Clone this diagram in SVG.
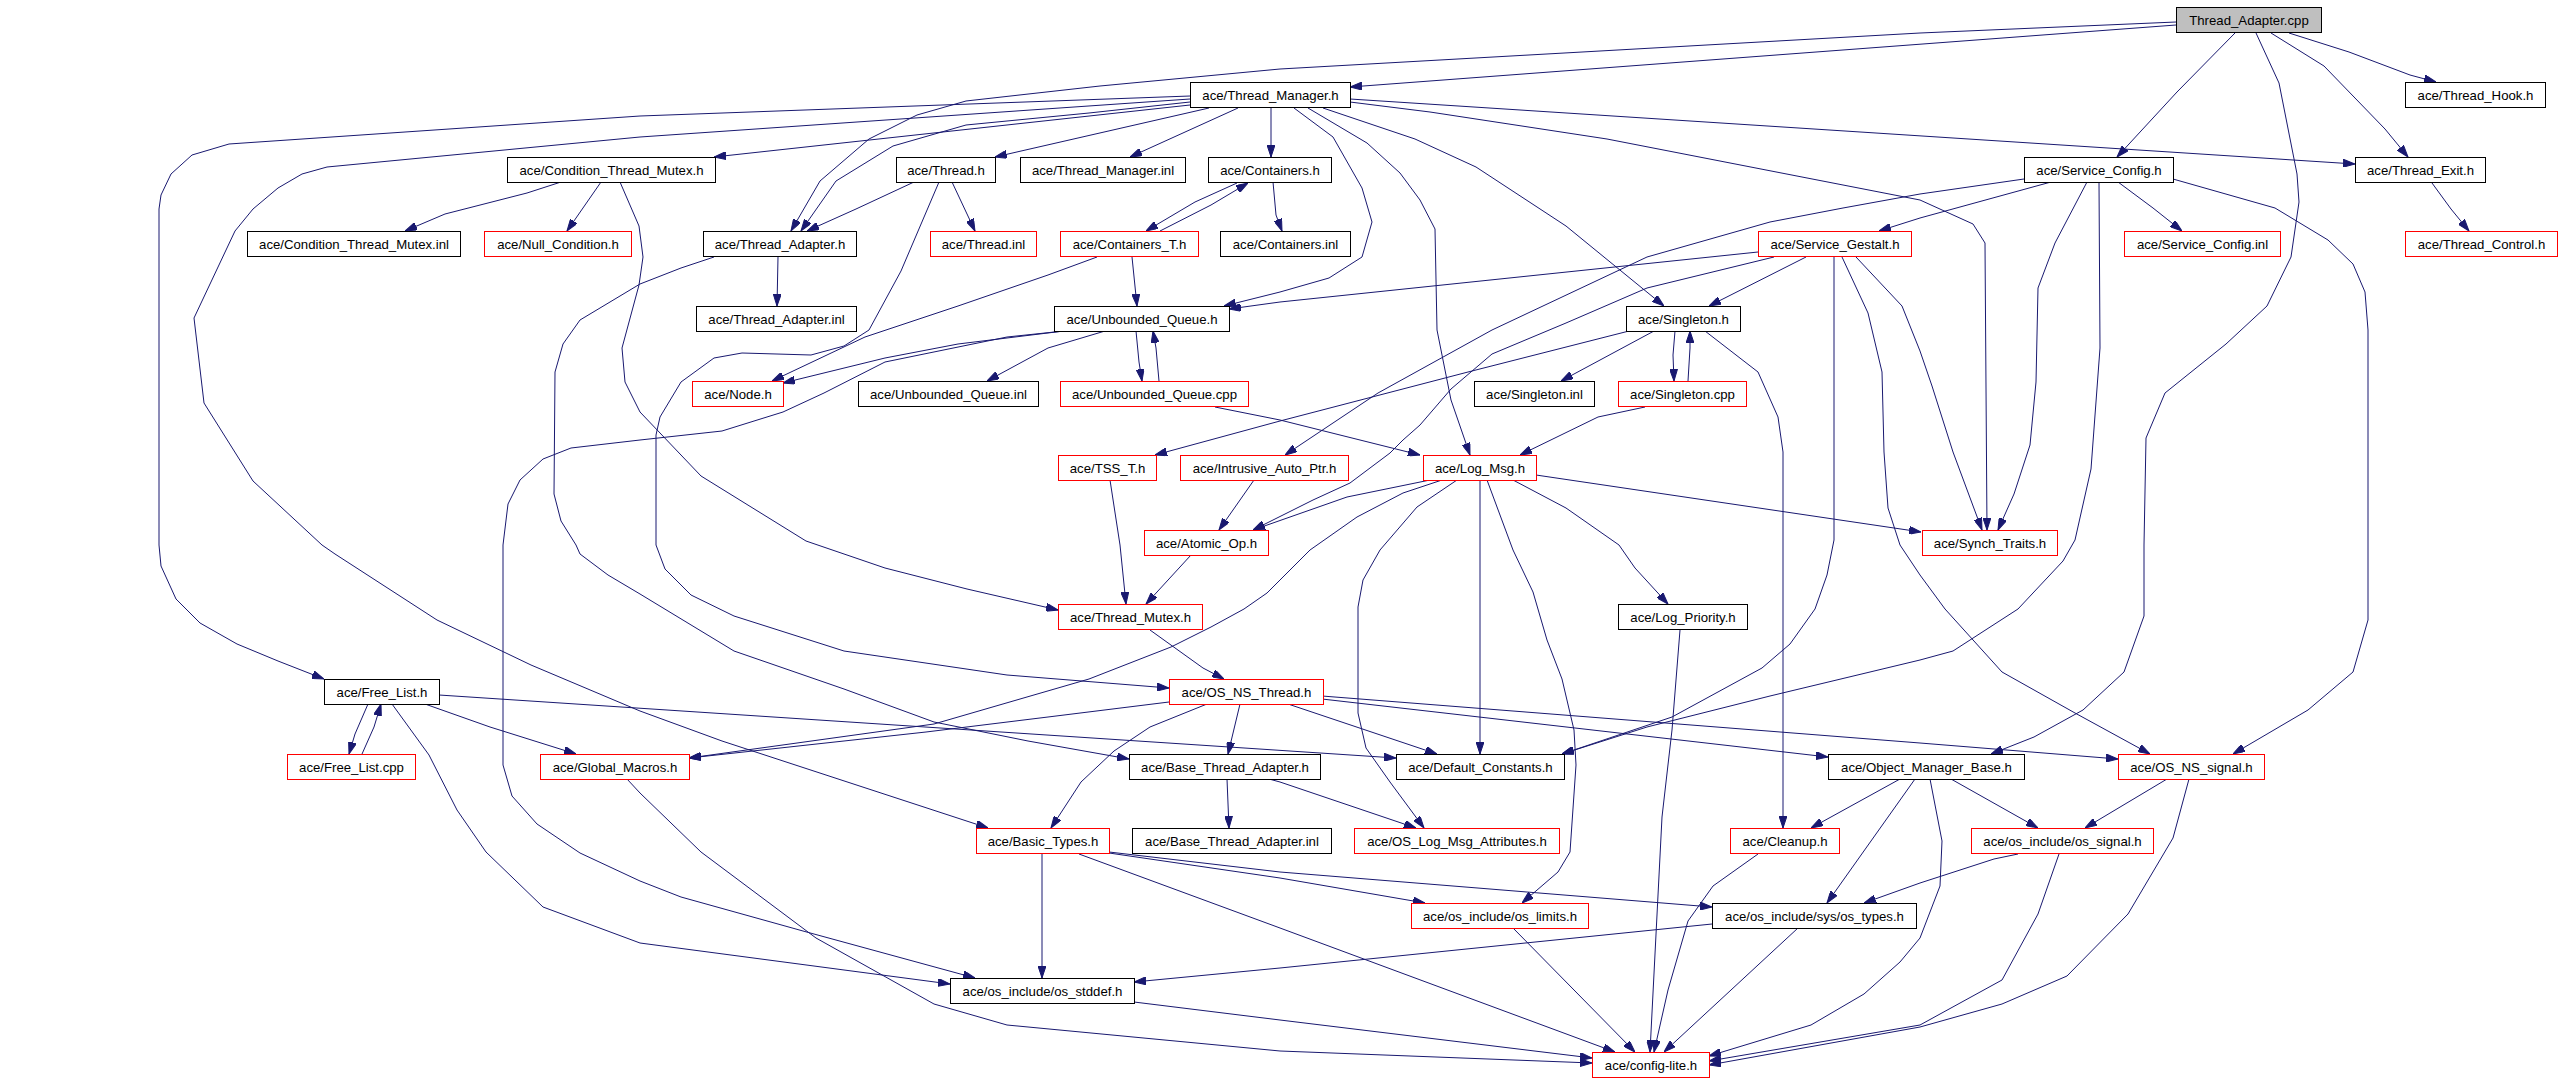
<svg xmlns="http://www.w3.org/2000/svg" width="2559" height="1083" viewBox="0 0 2559 1083">
<style>
.n rect{fill:#fff;stroke:#000;stroke-width:1}
.r rect{stroke:#f00}
.root rect{fill:#bfbfbf}
text{font-family:"Liberation Sans",Arial,sans-serif;font-size:13.2px;text-anchor:middle;fill:#000}
.e path{fill:none;stroke:#191970;stroke-width:1;marker-end:url(#a)}
</style>
<defs>
<marker id="a" markerWidth="12" markerHeight="8" refX="12" refY="4" orient="auto" markerUnits="userSpaceOnUse"><path d="M0,0 L12,4 L0,8 z" fill="#191970" stroke="#191970" stroke-width="1"/></marker>
</defs>
<rect width="2559" height="1083" fill="#fff"/>
<g id="edges" class="e">
<path d="M2176,25 L1350,87"/>
<path d="M2176,22 L1920,33 L1280,69 L1100,86 L966,101 L917,115 L869,139 L820,181 L791,231"/>
<path d="M2235,33 L2177,92 L2117,157"/>
<path d="M2256,33 L2279,83 L2297,174 L2299,202 L2291,257 L2267,306 L2226,344 L2165,393 L2146,438 L2144,545 L2144,616 L2124,672 L2083,710 L2034,737 L1991,754"/>
<path d="M2271,33 L2324,66 L2385,129 L2408,157"/>
<path d="M2289,33 L2349,52 L2410,75 L2436,82"/>
<path d="M1190,105 L714,157"/>
<path d="M1209,108 L995,157"/>
<path d="M1238,108 L1130,157"/>
<path d="M1271,108 L1271,157"/>
<path d="M1190,102 L1089,113 L966,125 L893,146 L836,181 L801,231"/>
<path d="M1190,96 L640,116 L229,144 L192,155 L171,174 L161,195 L159,209 L159,545 L161,566 L176,599 L200,623 L237,644 L278,661 L324,679"/>
<path d="M1190,99 L640,137 L327,167 L302,174 L278,188 L253,209 L235,231 L194,318 L204,403 L253,481 L322,545 L335,554 L437,620 L531,665 L640,711 L722,741 L988,828"/>
<path d="M1294,108 L1333,137 L1362,188 L1372,222 L1362,257 L1329,278 L1280,292 L1224,306"/>
<path d="M1308,108 L1367,143 L1400,173 L1420,200 L1435,229 L1437,330 L1451,400 L1470,455"/>
<path d="M1323,108 L1415,139 L1476,167 L1566,226 L1664,306"/>
<path d="M1350,102 L1430,112 L1607,139 L1920,200 L1973,224 L1985,243 L1987,530"/>
<path d="M1350,99 L2355,164"/>
<path d="M561,182 L527,193 L445,214 L405,231"/>
<path d="M601,182 L567,231"/>
<path d="M620,182 L639,226 L643,257 L639,285 L622,348 L625,382 L640,412 L701,476 L806,541 L885,568 L967,589 L1058,610"/>
<path d="M914,182 L856,209 L807,231"/>
<path d="M952,182 L975,231"/>
<path d="M939,182 L901,271 L869,330 L844,346 L811,355 L742,353 L714,358 L681,382 L660,417 L656,435 L656,545 L665,569 L691,595 L734,616 L844,651 L1007,675 L1169,688"/>
<path d="M778,257 L777,306"/>
<path d="M714,257 L681,268 L640,284 L580,320 L563,344 L555,372 L554,494 L561,521 L576,545 L580,554 L608,575 L640,594 L734,651 L844,689 L934,722 L1028,741 L1129,759"/>
<path d="M1237,183 L1195,202 L1146,231"/>
<path d="M1160,231 L1211,205 L1248,183"/>
<path d="M1273,182 L1276,215 L1282,231"/>
<path d="M1132,257 L1137,306"/>
<path d="M1097,257 L1048,275 L958,306 L865,337 L772,381"/>
<path d="M1064,331 L958,344 L885,358 L783,383"/>
<path d="M1105,331 L1048,348 L987,381"/>
<path d="M1136,331 L1139,362 L1142,381"/>
<path d="M1159,381 L1156,348 L1153,331"/>
<path d="M1064,331 L1007,337 L885,362 L824,393 L783,412 L722,431 L640,440 L571,448 L543,459 L520,480 L508,504 L503,545 L503,765 L512,796 L537,824 L580,853 L640,881 L681,897 L803,931 L975,978"/>
<path d="M1215,407 L1280,420 L1420,455"/>
<path d="M2051,182 L1920,218 L1879,231"/>
<path d="M2024,179 L1920,194 L1843,208 L1770,222 L1647,257 L1492,330 L1378,393 L1285,455"/>
<path d="M2087,182 L2055,243 L2038,288 L2036,382 L2030,445 L2014,494 L1998,530"/>
<path d="M2099,182 L2100,348 L2091,469 L2075,540 L2063,561 L2018,609 L1953,651 L1920,660 L1770,696 L1647,727 L1562,754"/>
<path d="M2118,182 L2153,208 L2182,231"/>
<path d="M2173,179 L2275,208 L2328,240 L2353,264 L2365,292 L2368,330 L2368,620 L2353,672 L2308,710 L2233,754"/>
<path d="M2432,183 L2451,209 L2469,231"/>
<path d="M1758,252 L1280,302 L1229,309"/>
<path d="M1806,257 L1709,306"/>
<path d="M1774,257 L1647,288 L1566,323 L1492,354 L1451,389 L1420,425 L1403,440 L1390,453 L1350,483 L1313,500 L1253,530"/>
<path d="M1834,257 L1834,540 L1827,575 L1815,609 L1790,644 L1762,668 L1672,717 L1562,754"/>
<path d="M1842,257 L1868,313 L1882,372 L1884,452 L1888,508 L1900,545 L1920,575 L1945,609 L2002,672 L2075,713 L2150,754"/>
<path d="M1856,257 L1902,306 L1920,351 L1932,386 L1953,452 L1982,530"/>
<path d="M1654,331 L1561,381"/>
<path d="M1675,331 L1673,355 L1674,381"/>
<path d="M1688,381 L1690,348 L1690,331"/>
<path d="M1629,331 L1468,372 L1280,421 L1155,455"/>
<path d="M1705,331 L1758,372 L1778,417 L1783,452 L1783,828"/>
<path d="M1645,407 L1598,417 L1520,455"/>
<path d="M1110,480 L1120,545 L1126,604"/>
<path d="M1254,480 L1219,530"/>
<path d="M1191,555 L1146,604"/>
<path d="M1150,630 L1203,668 L1224,679"/>
<path d="M1169,702 L1048,717 L926,732 L689,758"/>
<path d="M1207,704 L1150,727 L1114,751 L1081,782 L1051,828"/>
<path d="M1240,704 L1228,754"/>
<path d="M1288,704 L1437,754"/>
<path d="M1322,699 L1828,757"/>
<path d="M1322,696 L1920,743 L2118,759"/>
<path d="M368,704 L355,734 L349,754"/>
<path d="M362,754 L374,727 L381,704"/>
<path d="M425,704 L490,727 L576,754"/>
<path d="M439,695 L1396,758"/>
<path d="M392,704 L429,755 L457,810 L486,852 L543,907 L640,943 L950,984"/>
<path d="M627,779 L640,793 L701,852 L816,938 L934,1004 L1007,1025 L1280,1051 L1592,1063"/>
<path d="M1042,854 L1042,978"/>
<path d="M1109,853 L1280,878 L1425,903"/>
<path d="M1109,852 L1280,872 L1712,907"/>
<path d="M1079,854 L1280,928 L1615,1052"/>
<path d="M1227,779 L1229,828"/>
<path d="M1269,779 L1280,782 L1416,828"/>
<path d="M1430,480 L1347,497 L1253,530"/>
<path d="M1442,480 L1403,493 L1357,517 L1310,550 L1267,593 L1244,609 L1211,627 L1171,647 L1089,679 L934,724 L689,758"/>
<path d="M1457,480 L1417,507 L1380,550 L1363,580 L1358,607 L1358,713 L1366,748 L1390,782 L1424,828"/>
<path d="M1480,480 L1480,754"/>
<path d="M1487,480 L1513,550 L1533,592 L1547,640 L1562,679 L1574,730 L1576,765 L1570,852 L1558,872 L1522,903"/>
<path d="M1513,480 L1566,508 L1619,545 L1635,568 L1668,604"/>
<path d="M1536,475 L1921,532"/>
<path d="M1680,630 L1672,730 L1662,817 L1650,1052"/>
<path d="M1758,854 L1713,886 L1688,921 L1668,990 L1654,1052"/>
<path d="M1712,924 L1280,968 L1134,982"/>
<path d="M1798,928 L1664,1052"/>
<path d="M1513,928 L1635,1052"/>
<path d="M1134,1002 L1280,1020 L1592,1058"/>
<path d="M1930,779 L1942,841 L1940,886 L1920,938 L1900,962 L1864,994 L1811,1025 L1709,1056"/>
<path d="M2059,854 L2038,914 L2002,980 L1920,1025 L1709,1061"/>
<path d="M2189,779 L2173,838 L2128,914 L2067,976 L2002,1004 L1920,1027 L1709,1065"/>
<path d="M1951,779 L2038,828"/>
<path d="M1900,779 L1811,828"/>
<path d="M1915,779 L1827,903"/>
<path d="M2167,779 L2085,828"/>
<path d="M2018,854 L1994,859 L1920,883 L1864,903"/>
</g>
<g id="n0" class="n root"><rect x="2176.5" y="7.5" width="145" height="25"/><text x="2249" y="24.5">Thread_Adapter.cpp</text></g>
<g id="n1" class="n"><rect x="1190.5" y="82.5" width="160" height="25"/><text x="1270.5" y="99.5">ace/Thread_Manager.h</text></g>
<g id="n2" class="n"><rect x="2405.5" y="82.5" width="140" height="25"/><text x="2475.5" y="99.5">ace/Thread_Hook.h</text></g>
<g id="n3" class="n"><rect x="507.5" y="157.5" width="208" height="25"/><text x="611.5" y="174.5">ace/Condition_Thread_Mutex.h</text></g>
<g id="n4" class="n"><rect x="896.5" y="157.5" width="99" height="25"/><text x="946" y="174.5">ace/Thread.h</text></g>
<g id="n5" class="n"><rect x="1020.5" y="157.5" width="165" height="25"/><text x="1103" y="174.5">ace/Thread_Manager.inl</text></g>
<g id="n6" class="n"><rect x="1208.5" y="157.5" width="123" height="25"/><text x="1270" y="174.5">ace/Containers.h</text></g>
<g id="n7" class="n"><rect x="2024.5" y="157.5" width="149" height="25"/><text x="2099" y="174.5">ace/Service_Config.h</text></g>
<g id="n8" class="n"><rect x="2355.5" y="157.5" width="130" height="25"/><text x="2420.5" y="174.5">ace/Thread_Exit.h</text></g>
<g id="n9" class="n"><rect x="247.5" y="231.5" width="213" height="25"/><text x="354" y="248.5">ace/Condition_Thread_Mutex.inl</text></g>
<g id="n10" class="n r"><rect x="484.5" y="231.5" width="147" height="25"/><text x="558" y="248.5">ace/Null_Condition.h</text></g>
<g id="n11" class="n"><rect x="703.5" y="231.5" width="153" height="25"/><text x="780" y="248.5">ace/Thread_Adapter.h</text></g>
<g id="n12" class="n r"><rect x="930.5" y="231.5" width="106" height="25"/><text x="983.5" y="248.5">ace/Thread.inl</text></g>
<g id="n13" class="n r"><rect x="1060.5" y="231.5" width="138" height="25"/><text x="1129.5" y="248.5">ace/Containers_T.h</text></g>
<g id="n14" class="n"><rect x="1220.5" y="231.5" width="130" height="25"/><text x="1285.5" y="248.5">ace/Containers.inl</text></g>
<g id="n15" class="n r"><rect x="1758.5" y="231.5" width="153" height="25"/><text x="1835" y="248.5">ace/Service_Gestalt.h</text></g>
<g id="n16" class="n r"><rect x="2124.5" y="231.5" width="156" height="25"/><text x="2202.5" y="248.5">ace/Service_Config.inl</text></g>
<g id="n17" class="n r"><rect x="2405.5" y="231.5" width="152" height="25"/><text x="2481.5" y="248.5">ace/Thread_Control.h</text></g>
<g id="n18" class="n"><rect x="696.5" y="306.5" width="160" height="25"/><text x="776.5" y="323.5">ace/Thread_Adapter.inl</text></g>
<g id="n19" class="n"><rect x="1054.5" y="306.5" width="175" height="25"/><text x="1142" y="323.5">ace/Unbounded_Queue.h</text></g>
<g id="n20" class="n"><rect x="1626.5" y="306.5" width="114" height="25"/><text x="1683.5" y="323.5">ace/Singleton.h</text></g>
<g id="n21" class="n r"><rect x="692.5" y="381.5" width="91" height="25"/><text x="738" y="398.5">ace/Node.h</text></g>
<g id="n22" class="n"><rect x="858.5" y="381.5" width="180" height="25"/><text x="948.5" y="398.5">ace/Unbounded_Queue.inl</text></g>
<g id="n23" class="n r"><rect x="1060.5" y="381.5" width="188" height="25"/><text x="1154.5" y="398.5">ace/Unbounded_Queue.cpp</text></g>
<g id="n24" class="n"><rect x="1474.5" y="381.5" width="120" height="25"/><text x="1534.5" y="398.5">ace/Singleton.inl</text></g>
<g id="n25" class="n r"><rect x="1618.5" y="381.5" width="128" height="25"/><text x="1682.5" y="398.5">ace/Singleton.cpp</text></g>
<g id="n26" class="n r"><rect x="1058.5" y="455.5" width="98" height="25"/><text x="1107.5" y="472.5">ace/TSS_T.h</text></g>
<g id="n27" class="n r"><rect x="1180.5" y="455.5" width="168" height="25"/><text x="1264.5" y="472.5">ace/Intrusive_Auto_Ptr.h</text></g>
<g id="n28" class="n r"><rect x="1423.5" y="455.5" width="113" height="25"/><text x="1480" y="472.5">ace/Log_Msg.h</text></g>
<g id="n29" class="n r"><rect x="1144.5" y="530.5" width="124" height="25"/><text x="1206.5" y="547.5">ace/Atomic_Op.h</text></g>
<g id="n30" class="n r"><rect x="1922.5" y="530.5" width="135" height="25"/><text x="1990" y="547.5">ace/Synch_Traits.h</text></g>
<g id="n31" class="n r"><rect x="1058.5" y="604.5" width="144" height="25"/><text x="1130.5" y="621.5">ace/Thread_Mutex.h</text></g>
<g id="n32" class="n"><rect x="1618.5" y="604.5" width="129" height="25"/><text x="1683" y="621.5">ace/Log_Priority.h</text></g>
<g id="n33" class="n"><rect x="324.5" y="679.5" width="115" height="25"/><text x="382" y="696.5">ace/Free_List.h</text></g>
<g id="n34" class="n r"><rect x="1169.5" y="679.5" width="154" height="25"/><text x="1246.5" y="696.5">ace/OS_NS_Thread.h</text></g>
<g id="n35" class="n r"><rect x="287.5" y="754.5" width="128" height="25"/><text x="351.5" y="771.5">ace/Free_List.cpp</text></g>
<g id="n36" class="n r"><rect x="540.5" y="754.5" width="149" height="25"/><text x="615" y="771.5">ace/Global_Macros.h</text></g>
<g id="n37" class="n"><rect x="1129.5" y="754.5" width="191" height="25"/><text x="1225" y="771.5">ace/Base_Thread_Adapter.h</text></g>
<g id="n38" class="n"><rect x="1396.5" y="754.5" width="168" height="25"/><text x="1480.5" y="771.5">ace/Default_Constants.h</text></g>
<g id="n39" class="n"><rect x="1828.5" y="754.5" width="196" height="25"/><text x="1926.5" y="771.5">ace/Object_Manager_Base.h</text></g>
<g id="n40" class="n r"><rect x="2118.5" y="754.5" width="146" height="25"/><text x="2191.5" y="771.5">ace/OS_NS_signal.h</text></g>
<g id="n41" class="n r"><rect x="976.5" y="828.5" width="133" height="25"/><text x="1043" y="845.5">ace/Basic_Types.h</text></g>
<g id="n42" class="n"><rect x="1132.5" y="828.5" width="199" height="25"/><text x="1232" y="845.5">ace/Base_Thread_Adapter.inl</text></g>
<g id="n43" class="n r"><rect x="1354.5" y="828.5" width="205" height="25"/><text x="1457" y="845.5">ace/OS_Log_Msg_Attributes.h</text></g>
<g id="n44" class="n r"><rect x="1730.5" y="828.5" width="109" height="25"/><text x="1785" y="845.5">ace/Cleanup.h</text></g>
<g id="n45" class="n r"><rect x="1971.5" y="828.5" width="182" height="25"/><text x="2062.5" y="845.5">ace/os_include/os_signal.h</text></g>
<g id="n46" class="n r"><rect x="1411.5" y="903.5" width="177" height="25"/><text x="1500" y="920.5">ace/os_include/os_limits.h</text></g>
<g id="n47" class="n"><rect x="1712.5" y="903.5" width="204" height="25"/><text x="1814.5" y="920.5">ace/os_include/sys/os_types.h</text></g>
<g id="n48" class="n"><rect x="950.5" y="978.5" width="184" height="25"/><text x="1042.5" y="995.5">ace/os_include/os_stddef.h</text></g>
<g id="n49" class="n r"><rect x="1592.5" y="1052.5" width="117" height="25"/><text x="1651" y="1069.5">ace/config-lite.h</text></g>
</svg>
